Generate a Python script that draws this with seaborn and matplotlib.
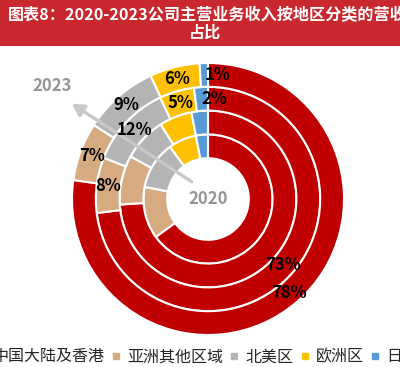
import matplotlib
matplotlib.use("Agg")
import matplotlib.pyplot as plt
import seaborn as sns
import numpy as np
from matplotlib.lines import Line2D
from matplotlib.patches import Rectangle

sns.set_style("white")
plt.rcParams['font.family'] = ['Noto Sans CJK SC', 'DejaVu Sans']

years = ['2020', '2021', '2022', '2023']
regions = ['中国大陆及香港', '亚洲其他区域', '北美区', '欧洲区', '日本']
share_2020 = [65, 13, 12, 7, 3]
share_2021 = [74, 9, 8, 6, 3]
share_2022 = [73, 8, 12, 5, 2]
share_2023 = [78, 7, 9, 6, 1]
labels_2022 = ['73%', '8%', '12%', '5%', '2%']
labels_2023 = ['78%', '7%', '9%', '6%', '1%']
title_line1 = '图表8：2020-2023公司主营业务收入按地区分类的营收'
title_line2 = '占比'

colors = sns.color_palette(['#C00000', '#D6AB82', '#B4B4B4', '#FFC000', '#5B9BD5'])

W, H = 400, 367
fig = plt.figure(figsize=(W / 100, H / 100), dpi=100)

# title banner
fig.patches.append(Rectangle((0, 1 - 46 / H), 1, 46 / H, transform=fig.transFigure,
                             facecolor='#C9292E', edgecolor='none', zorder=0))
fig.text(207 / W, 1 - 15 / H, title_line1, ha='center', va='center', color='white',
         fontsize=11.6, fontweight='bold')
fig.text(205 / W, 1 - 33 / H, title_line2, ha='center', va='center', color='white',
         fontsize=11.6, fontweight='bold')

cx, cy, R = 208, 199, 136
ax = fig.add_axes([(cx - R) / W, (H - cy - R) / H, 2 * R / W, 2 * R / H])

ring_width = 0.175
rings = [
    (share_2020, 0.475, None),
    (share_2021, 0.65, None),
    (share_2022, 0.825, labels_2022),
    (share_2023, 1.0, labels_2023),
]
for vals, rad, labs in rings:
    wedges, _ = ax.pie(vals, radius=rad, colors=colors, startangle=90, counterclock=False,
                       wedgeprops=dict(width=ring_width, edgecolor='white', linewidth=1.5))
    if labs is not None:
        rmid = rad - ring_width / 2
        for i, (w, lab) in enumerate(zip(wedges, labs)):
            th = np.deg2rad((w.theta1 + w.theta2) / 2)
            ha = 'left' if i == len(labs) - 1 else 'center'
            ax.text(rmid * np.cos(th), rmid * np.sin(th), lab, ha=ha, va='center',
                    fontsize=12, fontweight='bold', color='black', zorder=5)

ax.set_xlim(-1, 1)
ax.set_ylim(-1, 1)

# arrow from 2020 (inner) to 2023 (outer)
ax.annotate('', xy=(-1.0, 0.70), xytext=(-0.12, 0.127),
            arrowprops=dict(arrowstyle='-|>,head_length=0.7,head_width=0.4',
                            color='#C8C8C8', lw=2.4, shrinkA=0, shrinkB=0),
            annotation_clip=False, zorder=4)
ax.text(-1.15, 0.83, years[-1], ha='center', va='center', fontsize=12,
        fontweight='bold', color='#969696', clip_on=False)
ax.text(0, 0, years[0], ha='center', va='center', fontsize=12,
        fontweight='bold', color='#969696')

handles = [Line2D([], [], marker='s', linestyle='', color=c, markersize=4.5) for c in colors]
fig.legend(handles, regions, loc='center', bbox_to_anchor=(198 / W, 10 / H), ncol=5,
           frameon=False, fontsize=11.5, handlelength=0.5, handletextpad=0.45,
           columnspacing=0.45, borderpad=0)

fig.savefig('out.png', dpi=100)
